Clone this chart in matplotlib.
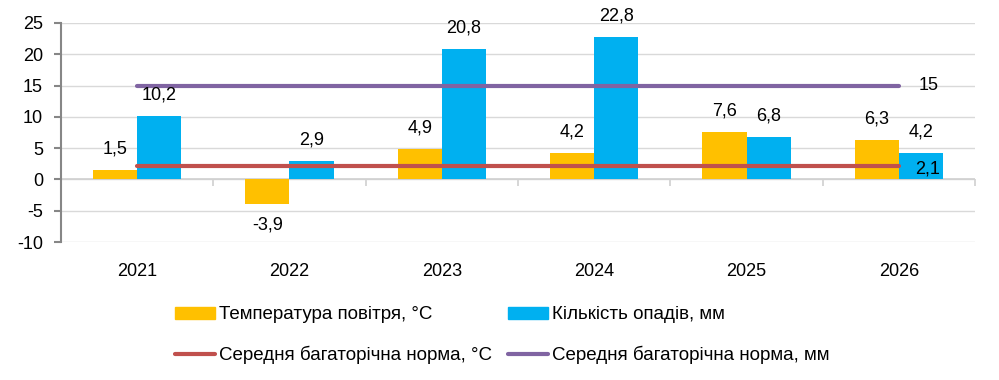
import numpy as np
import matplotlib.pyplot as plt
from matplotlib.lines import Line2D
from matplotlib.patches import Patch

plt.rcParams['font.family'] = ['Liberation Sans', 'DejaVu Sans']
plt.rcParams['axes.unicode_minus'] = False

years = ['2021', '2022', '2023', '2024', '2025', '2026']
temp = [1.5, -3.9, 4.9, 4.2, 7.6, 6.3]
precip = [10.2, 2.9, 20.8, 22.8, 6.8, 4.2]
norm_temp = [2.1] * 6
norm_precip = [15] * 6

c_temp = '#FFC000'
c_precip = '#00B0F0'
c_ntemp = '#C0504D'
c_nprecip = '#8064A2'

fig = plt.figure(figsize=(9.99, 3.8), dpi=100)
ax = fig.add_axes([0.061, 0.363, 0.915, 0.5765])

x = np.arange(len(years))
w = 0.29
ax.bar(x - w / 2, temp, w, color=c_temp, zorder=2)
ax.bar(x + w / 2, precip, w, color=c_precip, zorder=2)
ax.plot(x, norm_temp, color=c_ntemp, lw=3, solid_capstyle='round', zorder=3)
ax.plot(x, norm_precip, color=c_nprecip, lw=3, solid_capstyle='round', zorder=3)

def fmt(v):
    return f'{v:g}'.replace('.', ',')

fs = 13
for xi, v in zip(x - w / 2, temp):
    ax.annotate(fmt(v), (xi, v), xytext=(0, 15 if v >= 0 else -15),
                textcoords='offset points', ha='center', va='center', fontsize=fs)
for xi, v in zip(x + w / 2, precip):
    ax.annotate(fmt(v), (xi, v), xytext=(0, 15), textcoords='offset points',
                ha='center', va='center', fontsize=fs)
ax.annotate(fmt(norm_precip[-1]), (x[-1], norm_precip[-1]), xytext=(14, 0),
            textcoords='offset points', ha='left', va='center', fontsize=fs)
ax.annotate(fmt(norm_temp[-1]), (x[-1], norm_temp[-1]), xytext=(12, -2),
            textcoords='offset points', ha='left', va='center', fontsize=fs)

ymin, ymax = -10, 25
ax.set_ylim(ymin, ymax)
ax.set_xlim(-0.5, len(years) - 0.5)
ax.set_yticks(range(-10, 26, 5))
ax.yaxis.grid(True, color='#D9D9D9', lw=1, zorder=0)
ax.set_axisbelow(True)

for s in ['top', 'right', 'bottom']:
    ax.spines[s].set_visible(False)
ax.spines['left'].set_color('#868686')
ax.spines['left'].set_linewidth(1.5)
ax.tick_params(axis='y', colors='#868686', length=5, width=1.5, labelsize=fs,
               labelcolor='black', pad=8)

ax.set_xticks(x)
ax.set_xticklabels(years)
ax.tick_params(axis='x', length=0, labelsize=fs, pad=15)

# category axis drawn at zero
ax.axhline(0, color='#D0D0D0', lw=1.2, zorder=1)
sec = ax.secondary_xaxis((0 - ymin) / (ymax - ymin))
sec.set_xticks(np.arange(-0.5, len(years), 1.0))
sec.set_xticklabels([])
sec.spines['bottom'].set_visible(False)
sec.tick_params(axis='x', length=5, color='#D0D0D0', width=1.2)

handles = [Patch(color=c_temp),
           Line2D([], [], color=c_ntemp, lw=3, solid_capstyle='round'),
           Patch(color=c_precip),
           Line2D([], [], color=c_nprecip, lw=3, solid_capstyle='round')]
labels = ['Температура повітря, °С', 'Середня багаторічна норма, °С',
          'Кількість опадів, мм', 'Середня багаторічна норма, мм']
fig.legend(handles, labels, ncol=2, loc='center', bbox_to_anchor=(0.503, 0.118),
           frameon=False, fontsize=13.5, handlelength=2.1, handleheight=0.6,
           handletextpad=0.25, columnspacing=0.85, labelspacing=1.2)

fig.savefig('out.png', dpi=100)
